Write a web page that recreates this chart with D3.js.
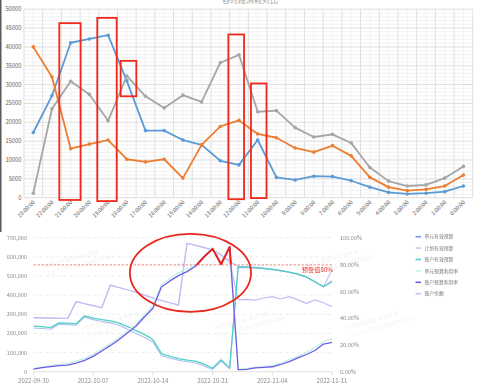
<!DOCTYPE html>
<html><head><meta charset="utf-8">
<script src="https://cdn.jsdelivr.net/npm/d3@7"></script>
<style>html,body{margin:0;padding:0;background:#fff;}svg{display:block;font-family:"Noto Sans CJK SC","Noto Sans",sans-serif;}</style>
</head><body><svg id="c" width="479" height="392"></svg>
<script>
// ---------- top chart data ----------
const hours = ["23:00:00","22:00:00","21:00:00","20:00:00","19:00:00","18:00:00","17:00:00","16:00:00","15:00:00","14:00:00","13:00:00","12:00:00","11:00:00","10:00:00","9:00:00","8:00:00","7:00:00","6:00:00","5:00:00","4:00:00","3:00:00","2:00:00","1:00:00","0:00:00"];
const blueVals   = [17300,27100,41100,42100,43100,31000,17800,17800,15300,14000,9800,8700,15300,5400,4700,5700,5600,4500,2800,1400,1000,1200,1600,3100];
const orangeVals = [40000,32000,13000,14200,15300,10200,9500,10200,5200,14000,18900,20500,16900,15900,13200,12100,13800,11100,5400,2800,1900,2200,3100,6000];
const grayVals   = [1200,23600,30900,27400,20400,32300,26900,23800,27200,25400,35800,37900,22800,23100,18600,16100,16800,14500,8000,4400,3100,3400,5200,8300];
const topTicks = [0,5000,10000,15000,20000,25000,30000,35000,40000,45000,50000];
const topTitle = "各时段消耗对比";
// annotation boxes: [index from, index to, value top, value bottom]
const annoBoxes = [[1.39,2.53,46300,-600],[3.42,4.46,47700,-900],[4.67,5.51,36300,26900],[10.43,11.27,43300,-400],[11.64,12.47,30300,-100]];

// ---------- bottom chart data ----------
const dates = ["2022-09-30","2022-10-01","2022-10-02","2022-10-03","2022-10-04","2022-10-05","2022-10-06","2022-10-07","2022-10-08","2022-10-09","2022-10-10","2022-10-11","2022-10-12","2022-10-13","2022-10-14","2022-10-15","2022-10-16","2022-10-17","2022-10-18","2022-10-19","2022-10-20","2022-10-21","2022-10-22","2022-10-23","2022-10-31","2022-11-01","2022-11-02","2022-11-03","2022-11-04","2022-11-05","2022-11-06","2022-11-07","2022-11-08","2022-11-09","2022-11-10","2022-11-11"];
const dateTicks = [0,7,14,21,28,35];
const unitBudget  = [228000,226000,222000,248000,246000,243000,285000,272000,262000,255000,244000,222000,200000,180000,155000,85000,70000,60000,52000,47000,30000,12000,55000,15000,545000,543000,541000,538000,533000,526000,518000,508000,493000,468000,444000,475000];
const planBudget  = [282000,281000,280000,279000,278000,366000,355000,345000,334000,452000,440000,428000,415000,400000,385000,372000,360000,348000,671000,660000,648000,637000,610000,577000,550000,548000,545000,541000,536000,530000,521000,510000,495000,470000,444000,531000];
const acctBudget  = [238000,235000,230000,255000,254000,250000,292000,280000,272000,265000,255000,235000,215000,195000,168000,95000,80000,68000,60000,55000,40000,18000,62000,20000,548000,546000,544000,540000,535000,528000,520000,510000,495000,470000,444000,470000];
const unitRate    = [0.025,0.035,0.045,0.055,0.062,0.08,0.10,0.13,0.17,0.21,0.255,0.305,0.355,0.425,0.495,0.65,0.70,0.74,0.77,0.80,0.87,0.93,0.815,0.94,0.02,0.025,0.035,0.04,0.045,0.065,0.09,0.115,0.145,0.18,0.225,0.25];
const acctRate    = [0.020,0.030,0.038,0.045,0.050,0.065,0.085,0.115,0.155,0.195,0.24,0.29,0.34,0.41,0.475,0.635,0.68,0.72,0.75,0.79,0.86,0.92,0.805,0.935,0.015,0.018,0.028,0.033,0.037,0.054,0.076,0.103,0.129,0.159,0.207,0.22];
const acctBalance = [282000,281000,280000,279000,278000,366000,355000,345000,334000,452000,440000,428000,415000,400000,385000,372000,360000,348000,671000,660000,648000,637000,610000,577000,376000,378000,374000,385000,392000,380000,392000,375000,357000,375000,360000,340000];
const leftTicks = [0,100000,200000,300000,400000,500000,600000,700000];
const rightTicks = [0,0.2,0.4,0.6,0.8,1.0];
const warnLevel = 0.8;
const warnLabel = "预警值80%";
const seriesNames = ["单元有效预算","计划有效预算","账户有效预算","单元预算利用率","账户预算利用率","账户余额"];
const seriesColors = ["#7c93e6","#c2c8f2","#4fd1c5","#c5efe9","#6f5ce6","#c5bcf6"];
const watermark1 = "快手内部信息 请勿外传";
const watermark2 = "172.20.252.33 15843936264";

const svg = d3.select("#c");

// ================= TOP CHART =================
const xT = d3.scaleLinear().domain([0,23]).range([33.3,463.4]);
const yT = d3.scaleLinear().domain([0,50000]).range([197.7,9.2]);
const gTop = svg.append("g");
gTop.append("rect").attr("x",0).attr("y",0).attr("width",1.5).attr("height",232).attr("fill","#5a5a5a");
gTop.append("text").attr("x",250).attr("y",2.5).attr("text-anchor","middle").attr("font-size",8).attr("fill","#a8a8a8").text(topTitle);

const px0 = xT(-0.5), px1 = xT(23.5);
gTop.append("g").selectAll("line").data(d3.range(0,50001,1000).filter(v=>v%5000!==0)).join("line")
  .attr("x1",px0).attr("x2",px1).attr("y1",d=>yT(d)).attr("y2",d=>yT(d)).attr("stroke","#efefef").attr("stroke-width",0.8);
gTop.append("g").selectAll("line").data(d3.range(24)).join("line")
  .attr("x1",d=>xT(d)).attr("x2",d=>xT(d)).attr("y1",yT(50000)).attr("y2",yT(0)).attr("stroke","#efefef").attr("stroke-width",0.8);
gTop.append("g").selectAll("line").data(topTicks).join("line")
  .attr("x1",px0).attr("x2",px1).attr("y1",d=>yT(d)).attr("y2",d=>yT(d)).attr("stroke","#d9d9d9").attr("stroke-width",0.9);
gTop.append("g").selectAll("line").data(d3.range(25)).join("line")
  .attr("x1",d=>xT(d-0.5)).attr("x2",d=>xT(d-0.5)).attr("y1",yT(50000)).attr("y2",yT(0)).attr("stroke","#dcdcdc").attr("stroke-width",0.9);

gTop.append("g").selectAll("text").data(topTicks).join("text")
  .attr("x",21.5).attr("y",d=>yT(d)).attr("dy","0.35em").attr("text-anchor","end")
  .attr("font-size",5.8).attr("fill","#666").text(d=>d);
gTop.append("g").selectAll("text").data(hours).join("text")
  .attr("transform",(d,i)=>`translate(${xT(i)+2},${202.5}) rotate(-45)`)
  .attr("text-anchor","end").attr("font-size",5.6).attr("fill","#666").text(d=>d);

const topSeries = [[blueVals,"#5b9bd5"],[orangeVals,"#ed7d31"],[grayVals,"#a5a5a5"]];
const lineT = d3.line().x((d,i)=>xT(i)).y(d=>yT(d));
topSeries.forEach(([vals,col])=>{
  gTop.append("path").attr("d",lineT(vals)).attr("fill","none").attr("stroke",col).attr("stroke-width",1.8).attr("stroke-linejoin","round");
  gTop.append("g").selectAll("circle").data(vals).join("circle")
    .attr("cx",(d,i)=>xT(i)).attr("cy",d=>yT(d)).attr("r",1.8).attr("fill",col);
});
gTop.append("g").selectAll("rect").data(annoBoxes).join("rect")
  .attr("x",d=>xT(d[0])).attr("y",d=>yT(d[2])).attr("width",d=>xT(d[1])-xT(d[0])).attr("height",d=>yT(d[3])-yT(d[2]))
  .attr("fill","none").attr("stroke","#f0291b").attr("stroke-width",1.8);

// ================= BOTTOM CHART =================
const bot = svg.append("g");
const xB = d3.scaleLinear().domain([0,35]).range([33.5,332]);
const yL = d3.scaleLinear().domain([0,700000]).range([371.7,237.7]);
const yR = d3.scaleLinear().domain([0,1]).range([371.7,238.2]);

const wm = bot.append("g").attr("fill","#000").attr("opacity",0.06).attr("font-size",5.5);
for(let r=0;r<2;r++){for(let c=0;c<3;c++){
  const x = 45 + c*130 + (r%2)*40, y = 268 + r*62;
  const g = wm.append("g").attr("transform",`translate(${x},${y}) rotate(-15)`);
  g.append("text").text(watermark1);
  g.append("text").attr("y",8).text(watermark2);
}}

bot.append("g").selectAll("line").data(leftTicks.slice(1)).join("line")
  .attr("x1",xB(0)).attr("x2",xB(35)).attr("y1",d=>yL(d)).attr("y2",d=>yL(d))
  .attr("stroke","#e6e6e6").attr("stroke-width",0.8).attr("stroke-dasharray","3,3");
bot.append("line").attr("x1",xB(0)).attr("x2",xB(35)).attr("y1",yL(0)).attr("y2",yL(0)).attr("stroke","#d6d6d6").attr("stroke-width",0.8);
bot.append("g").selectAll("line").data(dateTicks).join("line")
  .attr("x1",d=>xB(d)).attr("x2",d=>xB(d)).attr("y1",yL(0)).attr("y2",yL(0)+3.5).attr("stroke","#d0d0d0").attr("stroke-width",0.8);
bot.append("g").selectAll("text").data(leftTicks).join("text")
  .attr("x",27).attr("y",d=>yL(d)).attr("dy","0.35em").attr("text-anchor","end")
  .attr("font-size",5.6).attr("fill","#8a8a8a").text(d=>d3.format(",")(d));
bot.append("g").selectAll("text").data(rightTicks).join("text")
  .attr("x",340).attr("y",d=>yR(d)).attr("dy","0.35em").attr("text-anchor","start")
  .attr("font-size",5.6).attr("fill","#8a8a8a").text(d=>d3.format(".2%")(d));
bot.append("g").selectAll("text").data(dateTicks).join("text")
  .attr("x",d=>xB(d)).attr("y",382.5).attr("text-anchor","middle")
  .attr("font-size",6).attr("fill","#8a8a8a").text(d=>dates[d]);

const lineL = d3.line().x((d,i)=>xB(i)).y(d=>yL(d));
const lineR = d3.line().x((d,i)=>xB(i)).y(d=>yR(d));
const drawB = (path,col,w,op)=>bot.append("path").attr("d",path).attr("fill","none").attr("stroke",col)
  .attr("stroke-width",w).attr("stroke-opacity",op||1).attr("stroke-linejoin","round");
drawB(lineL(planBudget),seriesColors[1],1.2);
drawB(lineL(acctBalance),seriesColors[5],1.2);
drawB(lineL(unitBudget),seriesColors[0],1.1,0.6);
drawB(lineL(acctBudget),seriesColors[2],1.3);
drawB(lineR(unitRate),seriesColors[3],1.3);
drawB(lineR(acctRate),seriesColors[4],1.3);
bot.append("clipPath").attr("id","above").append("rect")
  .attr("x",xB(0)).attr("y",yR(1.05)).attr("width",xB(35)-xB(0)).attr("height",yR(warnLevel)-yR(1.05));
drawB(lineR(acctRate),"#ee1c1c",1.9).attr("clip-path","url(#above)");

bot.append("line").attr("x1",xB(0)).attr("x2",xB(35)).attr("y1",yR(warnLevel)).attr("y2",yR(warnLevel))
  .attr("stroke","#f06464").attr("stroke-width",0.8).attr("stroke-dasharray","2.5,1.5");
bot.append("text").attr("x",333).attr("y",yR(warnLevel)+7).attr("text-anchor","end")
  .attr("font-size",6.2).attr("fill","#e83030").text(warnLabel);

bot.append("ellipse").attr("cx",xB(18.4)).attr("cy",yR(0.74)).attr("rx",xB(25.5)-xB(18.4)).attr("ry",39)
  .attr("fill","none").attr("stroke","#e8281e").attr("stroke-width",1.8);

const leg = bot.append("g");
seriesNames.forEach((n,k)=>{
  const y = 236.7 + k*11.4;
  leg.append("line").attr("x1",415.5).attr("x2",421).attr("y1",y).attr("y2",y).attr("stroke",seriesColors[k]).attr("stroke-width",1.6);
  leg.append("text").attr("x",424.5).attr("y",y).attr("dy","0.35em").attr("font-size",4.8).attr("fill","#777").text(n);
});
</script></body></html>
